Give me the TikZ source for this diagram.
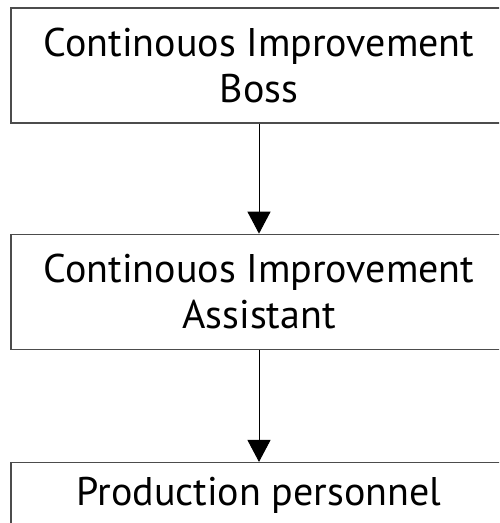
\documentclass[tikz,border=0pt]{standalone}
\usepackage{fontspec}
\setmainfont{PT Sans}
\usepackage{tikz}
\usetikzlibrary{positioning,arrows.meta}

\begin{document}
\begin{tikzpicture}[x=1pt,y=1pt,
  post/.style={draw=black!70,line width=1.3pt,minimum width=496pt,minimum height=115pt,
    align=center,font=\fontsize{40pt}{46pt}\selectfont},
  lastpost/.style={post,minimum height=0pt,text height=29pt,text depth=80pt,inner sep=14pt},
  link/.style={line width=1pt,-{Triangle[width=23pt,length=22pt]}}]
\useasboundingbox (0,0) rectangle (499,-523);
\clip (0,0) rectangle (499,-523);

\node[post] (boss) at (259,-65.5) {Continouos Improvement\\Boss};
\node[post,below=110pt of boss] (assistant) {Continouos Improvement\\Assistant};
\node[lastpost,below=112pt of assistant] (personnel) {Production personnel};

\draw[link] (boss) -- (assistant);
\draw[link] (assistant) -- (personnel);
\end{tikzpicture}
\end{document}
